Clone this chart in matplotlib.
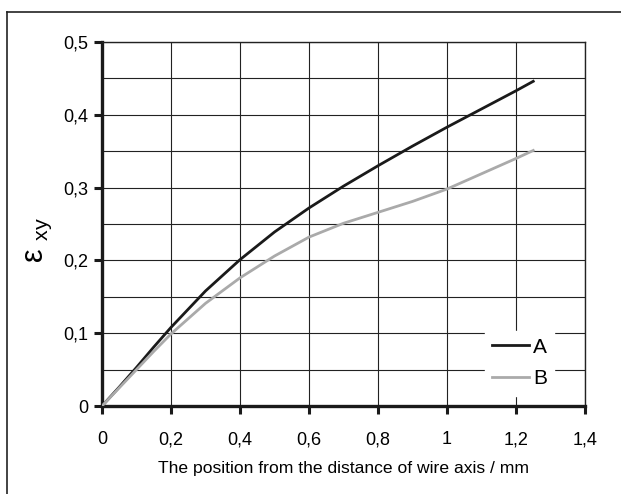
import numpy as np
import matplotlib
matplotlib.use("Agg")
import matplotlib.pyplot as plt
from matplotlib.lines import Line2D

plt.rcParams['font.family'] = ['Liberation Sans', 'DejaVu Sans']

# data
x = [0, 0.05, 0.1, 0.15, 0.2, 0.3, 0.4, 0.5, 0.6, 0.7, 0.8, 0.9, 1.0, 1.1, 1.2, 1.25]
curve_a = [0, 0.026, 0.053, 0.081, 0.108, 0.158, 0.201, 0.239, 0.272, 0.302, 0.33, 0.357, 0.383, 0.408, 0.433, 0.446]
curve_b = [0, 0.025, 0.05, 0.075, 0.099, 0.141, 0.176, 0.206, 0.232, 0.251, 0.266, 0.281, 0.298, 0.319, 0.34, 0.351]
xticks = [0, 0.2, 0.4, 0.6, 0.8, 1.0, 1.2, 1.4]
xticklabels = ['0', '0,2', '0,4', '0,6', '0,8', '1', '1,2', '1,4']
yticks = [0, 0.1, 0.2, 0.3, 0.4, 0.5]
yticklabels = ['0', '0,1', '0,2', '0,3', '0,4', '0,5']

fig = plt.figure(figsize=(6.21, 4.94), dpi=100)
ax = fig.add_axes([102/621, 1-406/494, 483/621, 364/494])

# outer frame (top and left edges only visible)
fig.add_artist(Line2D([7/621, 1], [1-12/494, 1-12/494], color='#222222', lw=1.2, transform=fig.transFigure))
fig.add_artist(Line2D([7/621, 7/621], [0, 1-12/494], color='#222222', lw=1.2, transform=fig.transFigure))

ax.plot(x, curve_a, color='#1a1a1a', lw=2.0, label='A', zorder=3)
ax.plot(x, curve_b, color='#aaaaaa', lw=2.0, label='B', zorder=3)

ax.set_xlim(0, 1.4)
ax.set_ylim(0, 0.5)
ax.set_xticks(xticks)
ax.set_xticklabels(xticklabels, fontsize=13)
ax.set_yticks(yticks)
ax.set_yticklabels(yticklabels, fontsize=13)
ax.set_yticks(np.arange(0, 0.5, 0.05), minor=True)
ax.grid(True, which='major', color='#222222', lw=0.8)
ax.grid(True, which='minor', axis='y', color='#222222', lw=0.8)
ax.tick_params(axis='both', which='major', direction='out', length=6, width=2.2, color='#1a1a1a', pad=4)
ax.tick_params(axis='y', which='minor', length=0)
ax.tick_params(axis='x', pad=12)

for side in ['left', 'bottom']:
    ax.spines[side].set_linewidth(2.4)
    ax.spines[side].set_color('#1a1a1a')
for side in ['top', 'right']:
    ax.spines[side].set_linewidth(1.0)
    ax.spines[side].set_color('#222222')

ax.set_xlabel('The position from the distance of wire axis / mm', fontsize=12.6, labelpad=9)
ax.set_ylabel(r'$\mathregular{\varepsilon}$ $_{\mathregular{xy}}$', fontsize=22)
ax.yaxis.set_label_coords(-0.1, 0.455)

leg = ax.legend(loc='lower right', bbox_to_anchor=(0.958, 0.0), frameon=True, fontsize=15,
                handlelength=1.75, handletextpad=0.2, borderpad=0.35, labelspacing=0.6)
leg.get_frame().set_edgecolor('white')
leg.get_frame().set_facecolor('white')
leg.get_frame().set_alpha(1)
leg.get_frame().set_boxstyle('square', pad=0)

fig.savefig('out.png', dpi=100)
